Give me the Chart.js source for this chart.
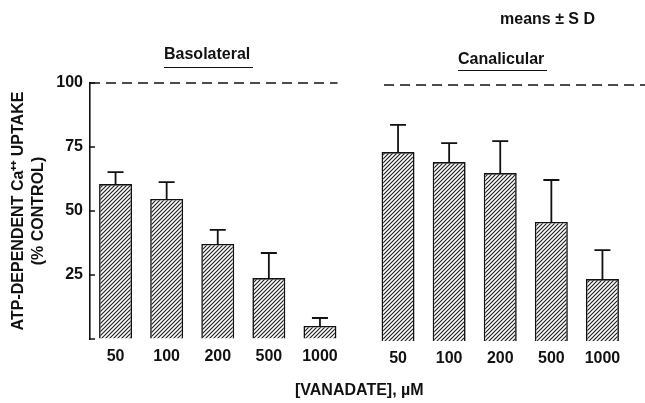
<!DOCTYPE html>
<html>
<head>
<meta charset="utf-8">
<script src="https://cdn.jsdelivr.net/npm/chart.js@4.4.1/dist/chart.umd.min.js"></script>
<style>
    body { margin: 0; background: #fff; }
    #wrap { position: relative; width: 645px; height: 403px; overflow: hidden;
            font-family: "Liberation Sans", Arial, sans-serif; font-weight: bold; color: #111; }
    canvas { position: absolute; }
    .lbl { position: absolute; font-size: 16px; line-height: 16px; white-space: nowrap; }
    .grp { border-bottom: 1.6px solid #111; padding-right: 3px; }
</style>
</head>
<body>
<div id="wrap">
    <canvas id="basoChart" width="360" height="403" style="left:0;top:0"></canvas>
    <canvas id="canaChart" width="285" height="403" style="left:360px;top:2px"></canvas>
    <div class="lbl" style="left:500px;top:11px">means ± S D</div>
    <div class="lbl grp" style="left:164px;top:46px;padding-bottom:5px">Basolateral</div>
    <div class="lbl grp" style="left:458px;top:51px;padding-bottom:3px">Canalicular</div>
    <div class="lbl" style="left:295px;top:382px">[VANADATE], µM</div>
</div>
<script>
(function () {
    'use strict'

    // Data (% of control, mean and SD)
    var concentrations = ['50', '100', '200', '500', '1000'];
    var basolateralMean = [60.5, 54.7, 37.1, 23.8, 5.1];
    var basolateralSD = [4.7, 6.6, 5.5, 9.8, 3.1];
    var canalicularMean = [73.8, 69.9, 65.6, 46.5, 24.2];
    var canalicularSD = [10.6, 7.4, 12.5, 16.4, 11.3];
    var yTicks = [0, 25, 50, 75, 100];
    var yTitle = ['ATP-DEPENDENT Ca⁺⁺ UPTAKE', '(% CONTROL)'];

    var ink = '#111';
    var font = { family: '"Liberation Sans", Arial, sans-serif', size: 16, weight: 'bold' };

    // diagonal hatch fill like the printed bars
    function hatch() {
        var c = document.createElement('canvas');
        c.width = c.height = 4;
        var g = c.getContext('2d');
        g.fillStyle = '#fff';
        g.fillRect(0, 0, 4, 4);
        g.strokeStyle = '#222';
        g.lineWidth = 1.2;
        g.beginPath();
        g.moveTo(0, 4); g.lineTo(4, 0);
        g.moveTo(-1, 1); g.lineTo(1, -1);
        g.moveTo(3, 5); g.lineTo(5, 3);
        g.stroke();
        return g.createPattern(c, 'repeat');
    }

    // upward-only SD whiskers
    var errorBars = {
        id: 'errorBars',
        afterDatasetsDraw: function (chart) {
            var ctx = chart.ctx, y = chart.scales.y;
            chart.data.datasets.forEach(function (ds, i) {
                chart.getDatasetMeta(i).data.forEach(function (bar, j) {
                    var top = y.getPixelForValue(ds.data[j] + ds.sd[j]);
                    ctx.save();
                    ctx.strokeStyle = ink;
                    ctx.lineWidth = 1.8;
                    ctx.beginPath();
                    ctx.moveTo(bar.x, bar.y);
                    ctx.lineTo(bar.x, top);
                    ctx.moveTo(bar.x - 8, top);
                    ctx.lineTo(bar.x + 8, top);
                    ctx.stroke();
                    ctx.restore();
                });
            });
        }
    };

    // dashed 100% control line
    var controlLine = {
        id: 'controlLine',
        beforeDatasetsDraw: function (chart, args, o) {
            var ctx = chart.ctx, a = chart.chartArea;
            var py = chart.scales.y.getPixelForValue(o.value);
            ctx.save();
            ctx.setLineDash([10, 6]);
            ctx.lineWidth = 1.6;
            ctx.strokeStyle = ink;
            ctx.beginPath();
            ctx.moveTo(a.left + o.startInset, py);
            ctx.lineTo(a.right + o.endInset, py);
            ctx.stroke();
            ctx.restore();
        }
    };

    // short tick marks pointing into the plot
    var innerTicks = {
        id: 'innerTicks',
        afterDraw: function (chart) {
            var ctx = chart.ctx, a = chart.chartArea, y = chart.scales.y;
            ctx.save();
            ctx.strokeStyle = ink;
            ctx.lineWidth = 1.6;
            ctx.beginPath();
            yTicks.forEach(function (v) {
                var py = y.getPixelForValue(v);
                ctx.moveTo(a.left, py);
                ctx.lineTo(a.left + 5, py);
            });
            ctx.stroke();
            ctx.restore();
        }
    };

    function makeChart(id, means, sds, withAxis, padding, line) {
        return new Chart(document.getElementById(id), {
            type: 'bar',
            data: {
                labels: concentrations,
                datasets: [{
                    data: means,
                    sd: sds,
                    backgroundColor: hatch(),
                    borderColor: ink,
                    borderWidth: 1.6,
                    barPercentage: 0.645,
                    categoryPercentage: 1
                }]
            },
            options: {
                responsive: false,
                animation: false,
                layout: { padding: padding },
                plugins: {
                    legend: { display: false },
                    tooltip: { enabled: false },
                    controlLine: line
                },
                scales: {
                    x: {
                        afterFit: function (s) { s.height = 64; },
                        border: { display: false },
                        grid: { display: false },
                        ticks: { padding: 0, color: ink, font: font }
                    },
                    y: {
                        display: withAxis,
                        min: 0,
                        max: 100,
                        afterFit: function (s) { s.width = withAxis ? 90 : 0; },
                        border: { display: true, color: ink, width: 1.6 },
                        grid: { drawOnChartArea: false, drawTicks: false },
                        afterBuildTicks: function (s) {
                            s.ticks = yTicks.map(function (v) { return { value: v }; });
                        },
                        ticks: {
                            padding: 7,
                            color: ink,
                            font: font,
                            callback: function (v) { return v === 0 ? '' : v; }
                        },
                        title: {
                            display: true,
                            text: yTitle,
                            color: ink,
                            font: { family: font.family, size: 16, weight: 'bold', lineHeight: 1.25 },
                            padding: { top: 9, bottom: 0 }
                        }
                    }
                }
            },
            plugins: withAxis ? [controlLine, errorBars, innerTicks] : [controlLine, errorBars]
        });
    }

    makeChart('basoChart', basolateralMean, basolateralSD, true,
        { top: 83, right: 14.5, left: 0, bottom: 0 },
        { value: 100, startInset: 0, endInset: -8 });

    makeChart('canaChart', canalicularMean, canalicularSD, false,
        { top: 83, right: 17, left: 12.5, bottom: 0 },
        { value: 100, startInset: 11.5, endInset: 17 });
})();
</script>
</body>
</html>
